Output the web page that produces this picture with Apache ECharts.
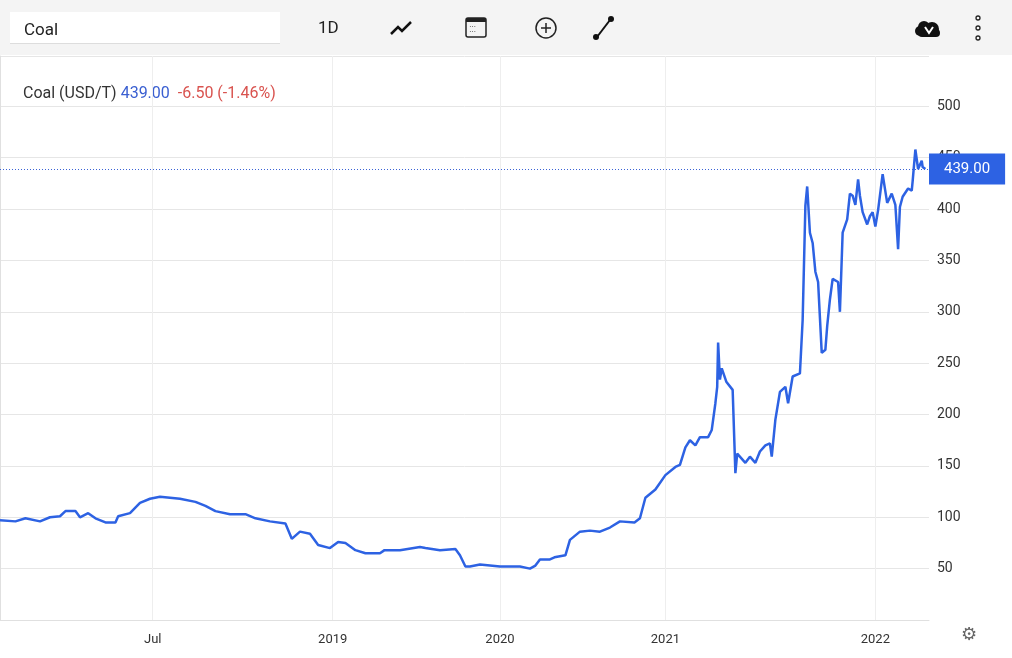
<!DOCTYPE html>
<html><head><meta charset="utf-8">
<script src="https://cdn.jsdelivr.net/npm/echarts@6/dist/echarts.min.js"></script>
<style>html,body{margin:0;padding:0;background:#fff}#c{width:1012px;height:658px}</style>
</head><body><div id="c"></div>
<script>
// x = trading session index, y = price (USD/T)
const sessions = [0,17,28,44,55,66,72,83,88,97,105,116,127,130,143,154,165,176,187,198,215,226,237,253,270,281,297,314,321,330,341,350,363,372,380,391,402,418,423,440,462,468,484,501,506,512,517,528,550,572,583,589,594,605,610,622,627,638,649,660,671,682,698,704,710,721,732,743,748,754,759,765,770,779,783,787,789,790,792,794,799,806,809,811,820,825,831,836,842,847,849,853,858,864,867,872,880,883,886,888,891,894,897,900,904,908,910,913,916,922,924,927,932,935,938,941,944,946,949,954,957,960,963,966,971,976,981,985,988,990,993,999,1003,1004,1007,1010,1014,1015,1018];
const prices   = [97,96,99,96,100,101,106,106,100,104,99,95,95,101,104,114,118,120,119,118,115,111,106,103,103,99,96,94,79,86,84,73,70,76,75,68,65,65,68,68,71,70,68,69,63,52,52,54,52,52,50,53,59,59,61,63,78,86,87,86,90,96,95,99,119,127,141,149,151,168,175,170,178,178,185,211,227,270,234,245,232,224,143,162,153,159,153,164,170,172,159,195,222,227,211,237,240,292,403,422,377,367,339,329,260,263,286,312,332,329,300,377,390,415,413,404,429,413,397,385,393,397,383,399,434,406,415,404,361,402,412,420,418,427,458,439,447,441,439];
const xTickValues = [168,366,550,732,963];
const xTickLabels = ['Jul','2019','2020','2021','2022'];
const lastPrice = 439.00;
const change = '-6.50 (-1.46%)';

const data = sessions.map((s,i)=>[s,prices[i]]);
const chart = echarts.init(document.getElementById('c'));
const font = 'Roboto, "Liberation Sans", sans-serif';
chart.setOption({
  animation:false,
  grid:{left:0,right:83,top:56,bottom:38},
  xAxis:{type:'value',min:0,max:1022,
    axisLine:{show:true,lineStyle:{color:'#e0e0e0'}},
    axisTick:{show:false},
    splitLine:{show:false},
    axisLabel:{customValues:xTickValues,color:'#333',fontSize:13,fontFamily:font,margin:13,
      formatter:v=>xTickLabels[xTickValues.indexOf(v)]}},
  yAxis:{type:'value',position:'right',min:0,max:549,interval:50,
    axisLine:{show:true,lineStyle:{color:'#e0e0e0'}},
    axisTick:{show:false},
    splitLine:{lineStyle:{color:'#e6e6e6'}},
    axisLabel:{color:'#333',fontSize:14,fontFamily:font,margin:8,
      formatter:v=>(v===0||v>500?'':String(v))}},
  series:[
    {type:'line',data:[],silent:true,z:0,
      markLine:{silent:true,symbol:'none',label:{show:false},z:0,
        lineStyle:{color:'#eeeeee',type:'solid',width:1},
        data:xTickValues.map(v=>({xAxis:v}))}},
    {type:'line',data:data,showSymbol:false,z:5,
    lineStyle:{color:'#2d62e3',width:2.5},
    markLine:{silent:true,symbol:'none',z:1,
      lineStyle:{color:'#3b63d6',type:[1,2],width:1,opacity:1},
      label:{position:'end',formatter:lastPrice.toFixed(2),color:'#fff',fontSize:15,fontFamily:font,
        backgroundColor:'#2d62e3',padding:[8,15,8,15],distance:0},
      data:[{yAxis:lastPrice}]}}],
  graphic:[
    {type:'rect',shape:{x:0,y:0,width:1012,height:55},style:{fill:'#f4f4f4'},z:-1},
    {type:'rect',shape:{x:10,y:12,width:270,height:32},style:{fill:'#fff'}},
    {type:'rect',shape:{x:10,y:43,width:270,height:1},style:{fill:'#ddd'}},
    {type:'text',x:24,y:22,style:{text:'Coal',fontSize:17,fill:'#222',fontFamily:font}},
    {type:'text',x:318,y:20,style:{text:'1D',fontSize:17,fill:'#222',fontFamily:font}},
    {type:'polyline',shape:{points:[[391,34],[398,27],[402,31],[411,22]]},style:{stroke:'#111',lineWidth:2.5,fill:null}},
    {type:'rect',shape:{x:466,y:18,width:20,height:19,r:2},style:{stroke:'#222',lineWidth:1.5,fill:null}},
    {type:'rect',shape:{x:466,y:18,width:20,height:4},style:{fill:'#222'}},
    {type:'text',x:469,y:24,style:{text:'∙∙∙\n∙∙∙',fontSize:8,lineHeight:5,fill:'#222'}},
    {type:'circle',shape:{cx:546,cy:28,r:10},style:{stroke:'#222',lineWidth:1.5,fill:null}},
    {type:'line',shape:{x1:541,y1:28,x2:551,y2:28},style:{stroke:'#222',lineWidth:1.5}},
    {type:'line',shape:{x1:546,y1:23,x2:546,y2:33},style:{stroke:'#222',lineWidth:1.5}},
    {type:'line',shape:{x1:597,y1:37,x2:610,y2:20},style:{stroke:'#111',lineWidth:2}},
    {type:'circle',shape:{cx:596,cy:37,r:3},style:{fill:'#111'}},
    {type:'circle',shape:{cx:611,cy:19,r:3},style:{fill:'#111'}},
    {type:'circle',shape:{cx:924,cy:27,r:6},style:{fill:'#111'}},
    {type:'circle',shape:{cx:932,cy:29,r:7},style:{fill:'#111'}},
    {type:'circle',shape:{cx:920,cy:31,r:5},style:{fill:'#111'}},
    {type:'rect',shape:{x:918,y:29,width:22,height:8,r:4},style:{fill:'#111'}},
    {type:'polyline',shape:{points:[[925,27],[929,33],[933,27]]},style:{stroke:'#fff',lineWidth:2,fill:null}},
    {type:'circle',shape:{cx:978,cy:18,r:2},style:{stroke:'#222',lineWidth:1.3,fill:null}},
    {type:'circle',shape:{cx:978,cy:28,r:2},style:{stroke:'#222',lineWidth:1.3,fill:null}},
    {type:'circle',shape:{cx:978,cy:38,r:2},style:{stroke:'#222',lineWidth:1.3,fill:null}},
    {type:'rect',shape:{x:0,y:82,width:320,height:26},style:{fill:'#fff'}},
    {type:'text',x:23,y:86,style:{text:'{a|Coal (USD/T) }{b|'+lastPrice.toFixed(2)+'}{a|  }{c|'+change+'}',
      rich:{a:{fontSize:16,fill:'#333',fontFamily:font},b:{fontSize:16,fill:'#3a5fd1',fontFamily:font},c:{fontSize:16,fill:'#d9534f',fontFamily:font}}}},
    {type:'text',x:961,y:626,style:{text:'⚙',fontSize:18,fill:'#666',fontFamily:'DejaVu Sans'}}
  ]
});
</script></body></html>
